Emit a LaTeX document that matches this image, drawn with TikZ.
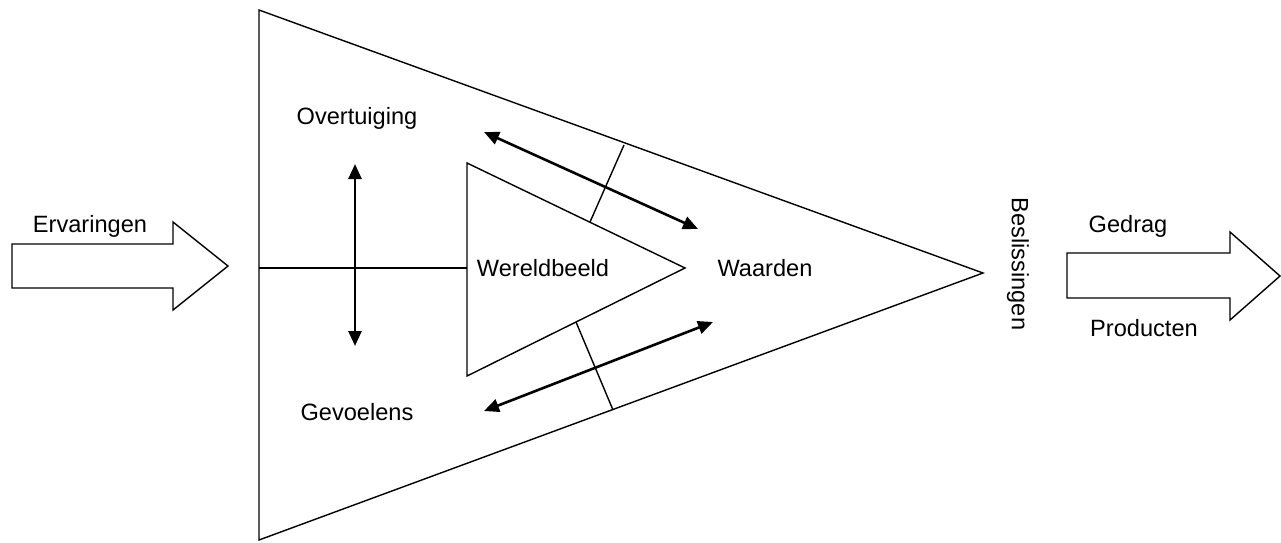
\documentclass[tikz,border=0pt]{standalone}
\usepackage{fontspec}
\setmainfont{Liberation Sans}
\usetikzlibrary{arrows.meta}
\begin{document}
\begin{tikzpicture}[x=1pt,y=-1pt,
  thinline/.style={line width=1.4pt, line join=miter},
  dblarrow/.style={line width=2.6pt, {Triangle[length=15pt,width=13pt]}-{Triangle[length=15pt,width=13pt]}},
  lbl/.style={font=\fontsize{23.6}{28}\selectfont, inner sep=0pt},
  blockarrow/.style={line width=1.4pt, line join=miter}]
\useasboundingbox (0,0) rectangle (1281,542);
% outer triangle
\coordinate (OT) at (259,10);
\coordinate (OB) at (259,540);
\coordinate (OA) at (983,273);
\draw[thinline] (OT) -- (OA) -- (OB) -- cycle;
% inner triangle
\coordinate (IT) at (467,163);
\coordinate (IB) at (467,376);
\coordinate (IA) at (685,268);
\draw[thinline] (IT) -- (IA) -- (IB) -- cycle;
% horizontal divider
\coordinate (H1) at (259,268);
\coordinate (H2) at (467,268);
\draw[thinline] (H1) -- (H2);
% cross lines
\coordinate (C1a) at (590,222);
\coordinate (C1b) at (624,145);
\draw[thinline] (C1a) -- (C1b);
\coordinate (C2a) at (576,322);
\coordinate (C2b) at (613,410);
\draw[thinline] (C2a) -- (C2b);
% double arrows
\coordinate (V1) at (355,164);
\coordinate (V2) at (355,346);
\draw[dblarrow] (V1) -- (V2);
\coordinate (D1a) at (484,132);
\coordinate (D1b) at (698,229);
\draw[dblarrow] (D1a) -- (D1b);
\coordinate (D2a) at (484,411);
\coordinate (D2b) at (713,322);
\draw[dblarrow] (D2a) -- (D2b);
% block arrows
\draw[blockarrow] (12,244) -- (173,244) -- (173,222) -- (228,266) -- (173,310) -- (173,288) -- (12,288) -- cycle;
\draw[blockarrow] (1067,253) -- (1230,253) -- (1230,232) -- (1280,276) -- (1230,320) -- (1230,298) -- (1067,298) -- cycle;
% labels
\node[lbl] (erv) at (90,226) {Ervaringen};
\node[lbl] (ovt) at (357,118) {Overtuiging};
\node[lbl] (gev) at (357,412) {Gevoelens};
\node[lbl] (wer) at (543,268) {Wereldbeeld};
\node[lbl] (waa) at (765,268) {Waarden};
\node[lbl, rotate=-90] (bes) at (1018,264) {Beslissingen};
\node[lbl] (ged) at (1128,226) {Gedrag};
\node[lbl] (pro) at (1144,328) {Producten};
\end{tikzpicture}
\end{document}
